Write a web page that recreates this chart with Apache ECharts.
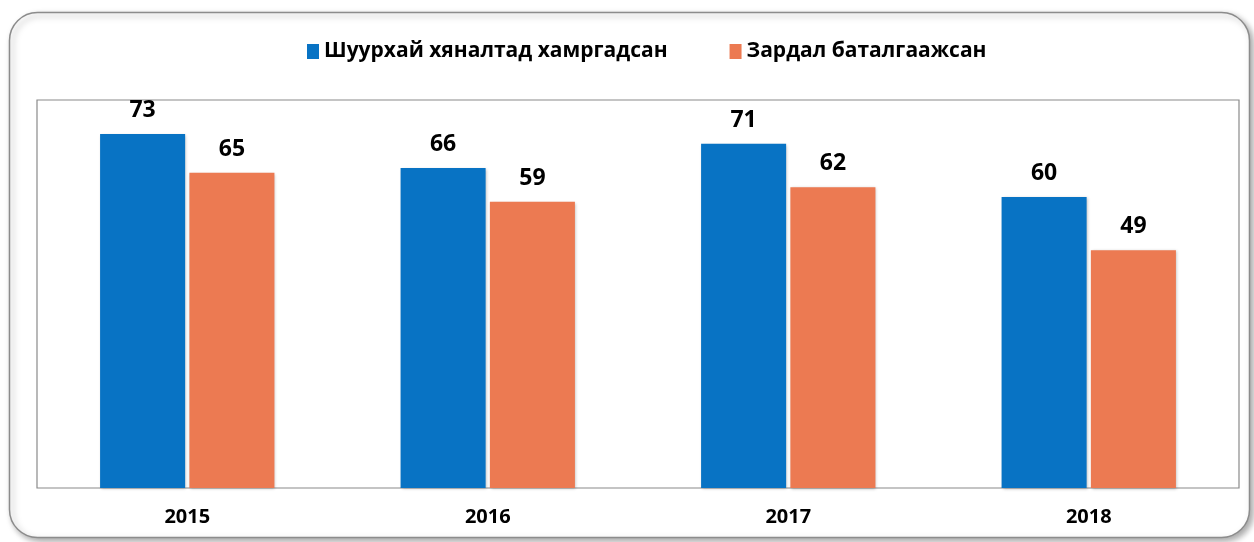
<!DOCTYPE html>
<html><head><meta charset="utf-8">
<script src="https://cdn.jsdelivr.net/npm/echarts@6/dist/echarts.min.js"></script>
<style>html,body{margin:0;padding:0;background:#fff}#c{width:1254px;height:542px}</style>
</head><body><div id="c"></div>
<script>
const categories = ['2015', '2016', '2017', '2018'];
const seriesNames = ['Шуурхай хяналтад хамргадсан', 'Зардал баталгаажсан'];
const monitored = [73, 66, 71, 60];
const confirmed = [65, 59, 62, 49];

const font = 'Open Sans';
const chart = echarts.init(document.getElementById('c'));
chart.setOption({
  animation: false,
  textStyle: { fontFamily: font },
  graphic: [{
    type: 'rect', z: -10,
    shape: { x: 9.5, y: 12.5, width: 1240, height: 525, r: 28 },
    style: { fill: '#fff', stroke: '#8c8c8c', lineWidth: 1.5, shadowBlur: 6, shadowOffsetX: 3, shadowOffsetY: 3, shadowColor: 'rgba(0,0,0,0.35)' }
  }],
  legend: {
    top: 36, left: 302, itemGap: 62, icon: 'rect',
    itemWidth: 12, itemHeight: 15,
    textStyle: { fontFamily: font, fontWeight: 'bold', fontSize: 21, color: '#000' },
    data: seriesNames
  },
  grid: { left: 37, right: 15, top: 100, bottom: 54, show: true, borderColor: '#8a8a8a', borderWidth: 1.2, backgroundColor: 'transparent' },
  xAxis: {
    type: 'category', data: categories,
    axisLine: { show: false }, axisTick: { show: false },
    axisLabel: { fontFamily: font, fontWeight: 'bold', fontSize: 20, color: '#000', margin: 19 }
  },
  yAxis: {
    type: 'value', min: 0, max: 80,
    axisLine: { show: false }, axisTick: { show: false }, axisLabel: { show: false }, splitLine: { show: false }
  },
  series: [
    { name: seriesNames[0], type: 'bar', data: monitored, barWidth: '28.3%', barGap: '5%',
      itemStyle: { color: '#0873C4', shadowBlur: 3, shadowOffsetX: 1, shadowOffsetY: 1, shadowColor: 'rgba(0,0,0,0.25)' },
      label: { show: true, position: 'top', distance: 12, fontFamily: font, fontWeight: 'bold', fontSize: 23, color: '#000' } },
    { name: seriesNames[1], type: 'bar', data: confirmed, barWidth: '28.3%', barGap: '5%',
      itemStyle: { color: '#EC7A52', shadowBlur: 3, shadowOffsetX: 1, shadowOffsetY: 1, shadowColor: 'rgba(0,0,0,0.25)' },
      label: { show: true, position: 'top', distance: 12, fontFamily: font, fontWeight: 'bold', fontSize: 23, color: '#000' } }
  ]
});
</script></body></html>
